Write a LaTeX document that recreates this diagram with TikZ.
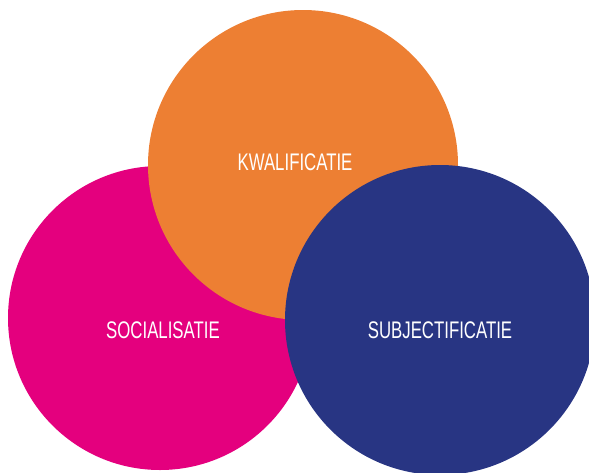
\documentclass[tikz,border=0pt]{standalone}
\usepackage{fontspec}
\setmainfont{Liberation Sans}[FakeStretch=0.70]
\definecolor{ringpink}{RGB}{228,0,126}
\definecolor{ringorange}{RGB}{237,127,51}
\definecolor{ringnavy}{RGB}{40,53,131}
\begin{document}
\begin{tikzpicture}[x=1pt,y=-1pt,
  disc/.style={circle,minimum size=#1,inner sep=0pt,outer sep=0pt},
  label/.style={text=white,font=\fontsize{24}{24}\selectfont,inner sep=0pt}]
\useasboundingbox (0,0) rectangle (589,472);
\clip (0,0) rectangle (589,472);
% three overlapping circles, pink at the back, navy in front
\fill[ringpink] (160,318) circle[radius=152];
\fill[ringorange] (303,165) circle[radius=155];
\fill[ringnavy] (440,320) circle[radius=155];
\node[label] (kwal) at (295,162) {KWALIFICATIE};
\node[label] (soc) at (163,330) {SOCIALISATIE};
\node[label] (subj) at (440,330) {SUBJECTIFICATIE};
\end{tikzpicture}
\end{document}
